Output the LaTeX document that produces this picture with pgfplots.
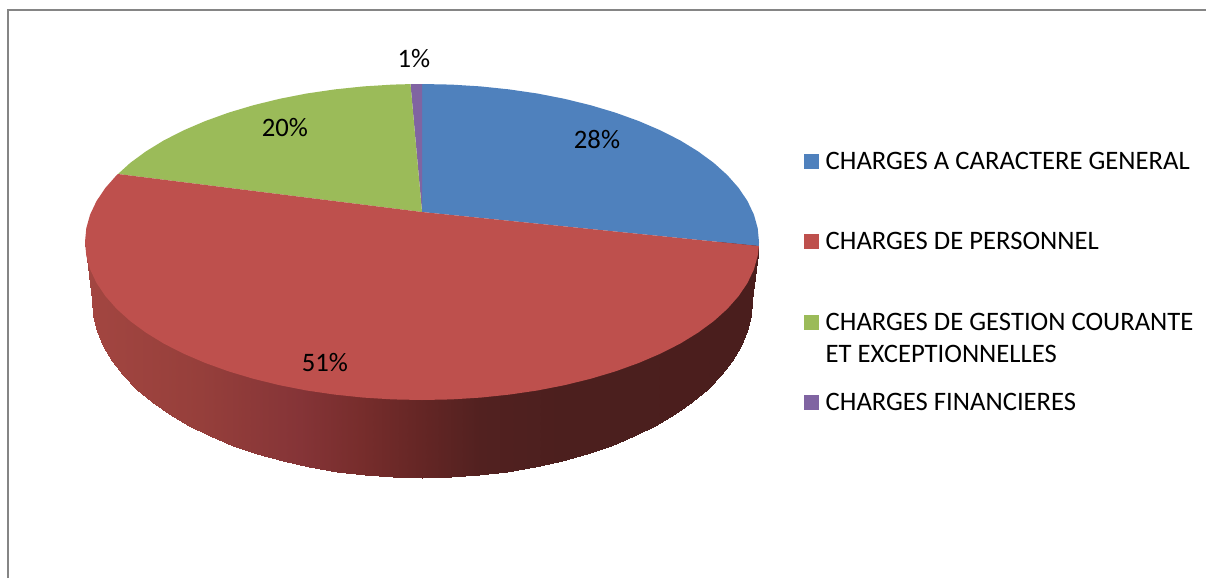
\documentclass[border=0pt]{standalone}
\usepackage{fontspec}
\setmainfont{Carlito}
\usepackage{pgfplots}
\pgfplotsset{compat=1.18}
\definecolor{cblue}{HTML}{4F81BD}
\definecolor{cred}{HTML}{BE504D}
\definecolor{cgreen}{HTML}{9BBB59}
\definecolor{cpurple}{HTML}{8064A2}
\definecolor{cframe}{HTML}{858585}
\pgfplotsset{colormap={side}{
 rgb255(85pt)=(163,70,65);
 rgb255(200pt)=(150,63,59);
 rgb255(300pt)=(133,52,55);
 rgb255(360pt)=(119,45,44);
 rgb255(420pt)=(101,38,37);
 rgb255(480pt)=(82,33,32);
 rgb255(560pt)=(76,31,30);
 rgb255(759pt)=(74,30,29)}}
\newcommand{\lab}{\fontsize{26.65}{30}\selectfont}
\begin{document}
\begin{tikzpicture}
\useasboundingbox (0,0) rectangle (1206pt,578pt);
\begin{axis}[
  at={(0,0)},anchor=south west,
  scale only axis,width=1206pt,height=578pt,
  xmin=0,xmax=1206,ymin=0,ymax=578,y dir=reverse,
  hide axis,
  point meta min=85,point meta max=759,
  colormap name=side,
]
% frame
\addplot[cframe,line width=2pt,forget plot] coordinates {(8,578) (8,10) (1206,10)};
% side wall
\addplot[surf,shader=interp,mesh/rows=2,point meta=x,forget plot] table {
x y
85 242
92 242
93.3 242
97 242
103.2 242
111.9 242
122.9 242
136.2 242
151.7 242
169.2 242
188.7 242
209.9 242
232.7 242
257 242
282.5 242
309.1 242
336.6 242
364.7 242
393.2 242
422 242
450.8 242
479.3 242
507.4 242
534.9 242
561.5 242
587 242
611.3 242
634.1 242
655.3 242
674.8 242
692.3 242
707.8 242
721.1 242
732.1 242
740.8 242
747 242
750.7 242
752 242
758.5 242
85 242
92 300
93.3 315.5
97 330.9
103.2 346.1
111.9 360.9
122.9 375.2
136.2 389
151.7 402.1
169.2 414.4
188.7 425.9
209.9 436.3
232.7 445.8
257 454.1
282.5 461.3
309.1 467.3
336.6 471.9
364.7 475.3
393.2 477.3
422 478
450.8 477.3
479.3 475.3
507.4 471.9
534.9 467.3
561.5 461.3
587 454.1
611.3 445.8
634.1 436.3
655.3 425.9
674.8 414.4
692.3 402.1
707.8 389
721.1 375.2
732.1 360.9
740.8 346.1
747 330.9
750.7 315.5
752 300
758.5 247
};
% top face
\addplot[fill=cblue,draw=none,forget plot] coordinates {(422,212) (422,84) (451.4,84.6) (480.5,86.4) (509.2,89.4) (537.3,93.5) (564.4,98.8) (590.5,105.2) (615.3,112.6) (638.6,121) (660.3,130.3) (680.2,140.4) (698.1,151.4) (713.9,163) (727.4,175.2) (738.7,188) (747.5,201.1) (753.9,214.6) (757.7,228.2) (759,242) (758.9,246)} --cycle;
\addplot[fill=cpurple,draw=none,forget plot] coordinates {(422,212) (422,84) (410.5,84.1)} --cycle;
\addplot[fill=cgreen,draw=none,forget plot] coordinates {(422,212) (410.5,84.1) (392.6,84.6) (363.5,86.4) (334.8,89.4) (306.7,93.5) (279.6,98.8) (253.5,105.2) (228.7,112.6) (205.4,121) (183.7,130.3) (163.8,140.4) (145.9,151.4) (130.1,163) (118,174)} --cycle;
\addplot[fill=cred,draw=none,forget plot] coordinates {(422,212) (118,174) (116.6,175.2) (105.3,188) (96.5,201.1) (90.1,214.6) (86.3,228.2) (85,242) (86.3,255.8) (90.1,269.4) (96.5,282.9) (105.3,296) (116.6,308.8) (130.1,321) (145.9,332.6) (163.8,343.6) (183.7,353.7) (205.4,363) (228.7,371.4) (253.5,378.8) (279.6,385.2) (306.7,390.5) (334.8,394.6) (363.5,397.6) (392.6,399.4) (422,400) (451.4,399.4) (480.5,397.6) (509.2,394.6) (537.3,390.5) (564.4,385.2) (590.5,378.8) (615.3,371.4) (638.6,363) (660.3,353.7) (680.2,343.6) (698.1,332.6) (713.9,321) (727.4,308.8) (738.7,296) (747.5,282.9) (753.9,269.4) (757.7,255.8) (758.9,246)} --cycle;
% legend swatches
\addplot[fill=cblue,draw=none,forget plot] coordinates {(804,154.3) (819,154.3) (819,169.3) (804,169.3)} --cycle;
\addplot[fill=cred,draw=none,forget plot] coordinates {(804,234.3) (819,234.3) (819,249.3) (804,249.3)} --cycle;
\addplot[fill=cgreen,draw=none,forget plot] coordinates {(804,315) (819,315) (819,330) (804,330)} --cycle;
\addplot[fill=cpurple,draw=none,forget plot] coordinates {(804,395) (819,395) (819,410) (804,410)} --cycle;
% data labels
\node[anchor=base,inner sep=0pt] at (axis cs:597,148) {\lab 28\%};
\node[anchor=base,inner sep=0pt] at (axis cs:285,136) {\lab 20\%};
\node[anchor=base,inner sep=0pt] at (axis cs:325,371) {\lab 51\%};
\node[anchor=base,inner sep=0pt] at (axis cs:414,67) {\lab 1\%};
% legend text
\node[anchor=base west,inner sep=0pt] at (axis cs:825.5,169) {\lab CHARGES A CARACTERE GENERAL};
\node[anchor=base west,inner sep=0pt] at (axis cs:825.5,249) {\lab CHARGES DE PERSONNEL};
\node[anchor=base west,inner sep=0pt] at (axis cs:825.5,330) {\lab CHARGES DE GESTION COURANTE};
\node[anchor=base west,inner sep=0pt] at (axis cs:825.5,362) {\lab ET EXCEPTIONNELLES};
\node[anchor=base west,inner sep=0pt] at (axis cs:825.5,410) {\lab CHARGES FINANCIERES};
\end{axis}
\end{tikzpicture}
\end{document}
